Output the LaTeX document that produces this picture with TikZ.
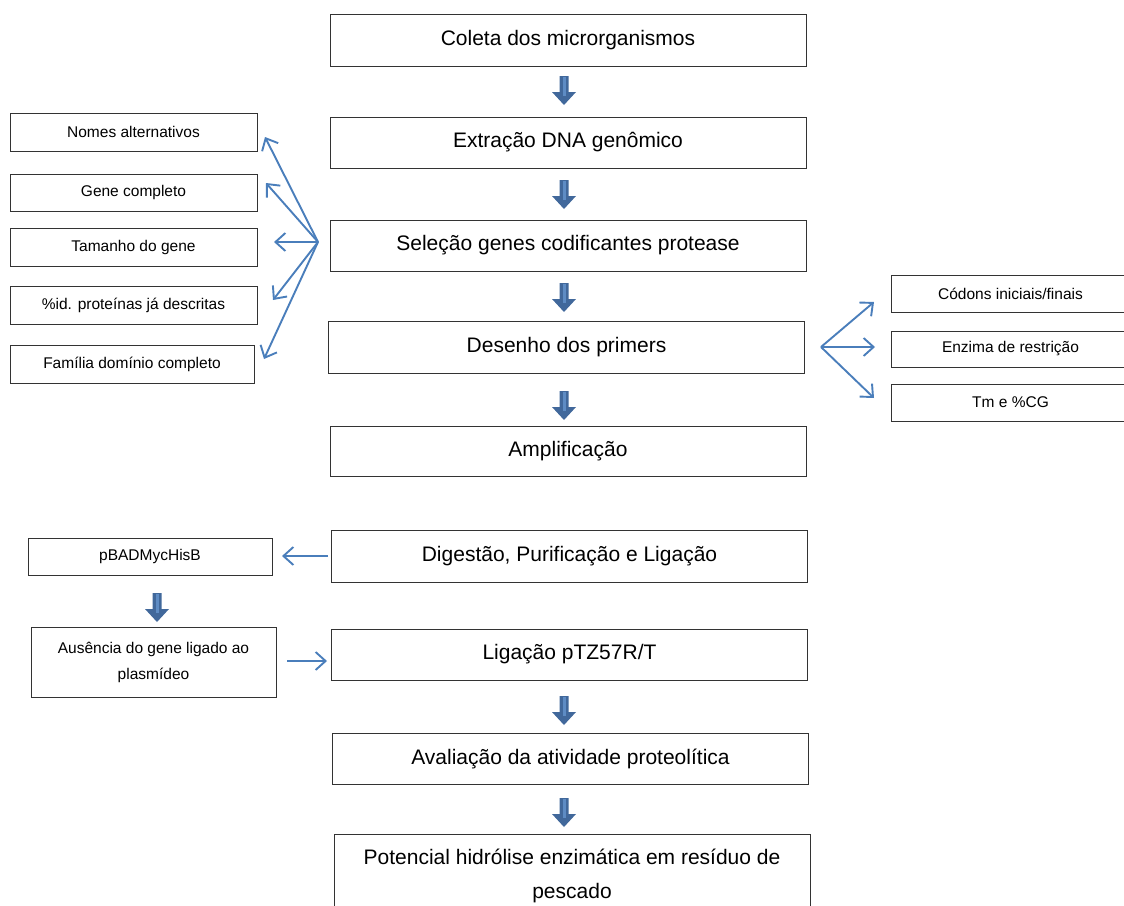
\documentclass[tikz,border=0pt]{standalone}
\usepackage{fontspec}
\setmainfont{Liberation Sans}
\usetikzlibrary{arrows.meta}
\definecolor{blk}{HTML}{41689B}
\definecolor{blklight}{HTML}{5E8CC4}
\definecolor{lnblue}{HTML}{4A7EBB}
\tikzset{
  mainbox/.style={draw=black!80, line width=1pt, fill=white, minimum width=476pt, minimum height=51pt, inner sep=0pt, font=\fontsize{21}{26}\selectfont, align=center},
  sidebox/.style={draw=black!80, line width=0.9pt, fill=white, minimum width=247pt, minimum height=37pt, inner sep=0pt, font=\fontsize{15.5}{26}\selectfont, align=center},
  fan/.style={draw=lnblue, line width=1.9pt, -{Straight Barb[length=10pt,width=18pt]}},
  pics/darr/.style={code={
    \fill[blk] (-4.5,0) -- (4.5,0) -- (4.5,16) -- (12,16) -- (0,29) -- (-12,16) -- (-4.5,16) -- cycle;
    \fill[blklight] (-1.5,1) rectangle (1.5,20);
  }}
}
\begin{document}
\begin{tikzpicture}[x=1pt,y=-1pt]
\useasboundingbox (0,0) rectangle (1124,905);
% main column
\node[mainbox, minimum height=52pt] (m1) at (568,40) {Coleta dos microrganismos};
\node[mainbox] (m2) at (568,142.5) {Extração DNA genômico};
\node[mainbox] (m3) at (568,245.5) {Seleção genes codificantes protease};
\node[mainbox, minimum height=52pt] (m4) at (566.5,347) {Desenho dos primers};
\node[mainbox, minimum height=50pt] (m5) at (568,451) {Amplificação};
\node[mainbox, minimum height=52pt] (m6) at (569.5,556) {Digestão, Purificação e Ligação};
\node[mainbox] (m7) at (569.5,654.5) {Ligação pTZ57R/T};
\node[mainbox] (m8) at (570.5,758.5) {Avaliação da atividade proteolítica};
\node[mainbox, minimum height=84pt, font=\fontsize{21}{34}\selectfont] (m9) at (572,876) {Potencial hidrólise enzimática em resíduo de\\pescado};
% left boxes
\node[sidebox, minimum height=38pt] (l1) at (133.5,132) {Nomes alternativos};
\node[sidebox] (l2) at (133.5,192.5) {Gene completo};
\node[sidebox, minimum height=38pt] (l3) at (133.5,247) {Tamanho do gene};
\node[sidebox, minimum height=38pt] (l4) at (133.5,305) {\%id. proteínas já descritas};
\node[sidebox, minimum width=244pt, minimum height=38pt] (l5) at (132,364) {Família domínio completo};
% right boxes
\node[sidebox, minimum width=239pt] (r1) at (1010.5,293.5) {Códons iniciais/finais};
\node[sidebox, minimum width=239pt, minimum height=36pt] (r2) at (1010.5,349) {Enzima de restrição};
\node[sidebox, minimum width=239pt] (r3) at (1010.5,402.5) {Tm e \%CG};
% lower left boxes
\node[sidebox, minimum width=244pt] (pb) at (150,556.5) {pBADMycHisB};
\node[sidebox, minimum width=245pt, minimum height=70pt] (au) at (153.5,662) {Ausência do gene ligado ao\\plasmídeo};
% block arrows
\pic at (564,76) {darr};
\pic at (564,180) {darr};
\pic at (564,283) {darr};
\pic at (564,391) {darr};
\pic at (564,696) {darr};
\pic at (564,798) {darr};
\pic at (157,593) {darr};
% left fan
\coordinate (fl) at (318,242);
\coordinate (tl1) at (265,137);
\coordinate (tl2) at (266,183);
\coordinate (tl3) at (274,242);
\coordinate (tl4) at (273,300);
\coordinate (tl5) at (264,359);
\foreach \t in {tl1,tl2,tl3,tl4,tl5} \draw[fan] (fl) -- (\t);
% right fan
\coordinate (fr) at (821,347);
\coordinate (tr1) at (874,302);
\coordinate (tr2) at (875,347);
\coordinate (tr3) at (874,398);
\foreach \t in {tr1,tr2,tr3} \draw[fan] (fr) -- (\t);
% horizontal arrows
\coordinate (d1) at (328,556);
\coordinate (d2) at (282,556);
\draw[fan] (d1) -- (d2);
\coordinate (a1) at (287,661);
\coordinate (a2) at (327,661);
\draw[fan] (a1) -- (a2);
\end{tikzpicture}
\end{document}
